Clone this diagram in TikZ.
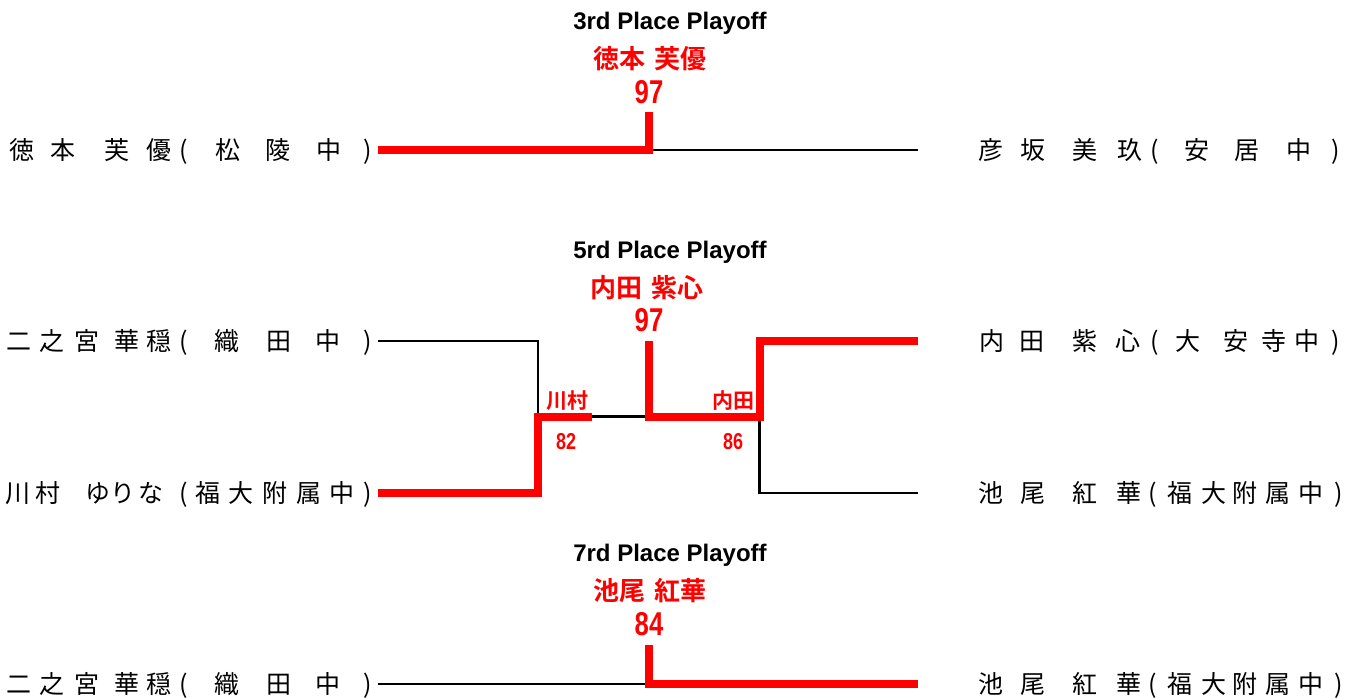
\documentclass[tikz,border=0pt]{standalone}
\usepackage{fontspec}
\newfontfamily\jpfont{Noto Sans CJK JP}[BoldFont={Noto Sans CJK JP Bold}]
\newfontfamily\latinfont{Liberation Sans}
\newfontfamily\numfont{Liberation Sans}[FakeStretch=0.78]
\definecolor{winred}{RGB}{255,0,0}

\tikzset{
  player/.style={font=\jpfont\fontsize{25}{25}\selectfont, inner sep=0pt, text height=21.25pt, text depth=2.25pt},
  playofftitle/.style={font=\latinfont\bfseries\fontsize{24}{24}\selectfont, inner sep=0pt, text height=17.3pt, text depth=0pt},
  winname/.style={font=\jpfont\bfseries\fontsize{26}{26}\selectfont, text=winred, inner sep=0pt, text height=22.1pt, text depth=2.3pt},
  bigscore/.style={font=\numfont\bfseries\fontsize{33}{33}\selectfont, text=winred, inner sep=0pt, text height=23.6pt, text depth=0pt},
  seminame/.style={winname, font=\jpfont\bfseries\fontsize{21}{21}\selectfont, text height=17.85pt, text depth=1.9pt},
  semiscore/.style={bigscore, font=\numfont\bfseries\fontsize{23}{23}\selectfont, text height=16.5pt},
  losepath/.style={line width=2.5pt, black},
  winpath/.style={line width=8pt, winred}
}

\newcommand{\playerrow}[3]{%
  \foreach \cx/\ch [count=\k] in {#3}
    \node[player] (#1-\k) at (\cx,#2) {\ch};}

\begin{document}
\begin{tikzpicture}[x=1pt, y=-1pt]
        \useasboundingbox (0,0) rectangle (1361,697);

        % 3rd place
        \node[playofftitle] (t3) at (670,21) {3rd Place Playoff};
        \node[winname] (w3) at (650,59) {徳本\hspace{9pt}芙優};
        \node[bigscore] (s3) at (649,92) {97};

        \playerrow{p3l}{150}{22/徳,63/本,117/芙,159/優,184/(,228/松,278/陵,329/中,368/)}
        \playerrow{p3r}{150}{991/彦,1033/坂,1085/美,1130/玖,1155/(,1197/安,1247/居,1299/中,1336/)}

        \coordinate (m3-l) at (378,150);
        \coordinate (m3-c) at (648.5,150);
        \coordinate (m3-r) at (918,150);
        \coordinate (m3-top) at (648.5,112);

        \draw[losepath] (m3-c) -- (m3-r);
        \draw[winpath] (m3-l) -| (m3-top);

        % 5th place
        \node[playofftitle] (t5) at (670,250) {5rd Place Playoff};
        \node[winname] (w5) at (647,288) {内田\hspace{9pt}紫心};
        \node[bigscore] (s5) at (649,320) {97};

        \playerrow{p5lt}{341}{19/二,52/之,87/宮,127/華,159/穏,184/(,227/織,279/田,328/中,368/)}
        \playerrow{p5rt}{341}{992/内,1032/田,1085/紫,1128/心,1155/(,1188/大,1236/安,1274/寺,1307/中,1336/)}
        \playerrow{p5lb}{493}{18/川,48/村,98/ゆ,123/り,151/な,184/(,208/福,241/大,275/附,309/属,342/中,368/)}
        \playerrow{p5rb}{493}{991/池,1033/尾,1085/紅,1129/華,1153/(,1180/福,1214/大,1245/附,1278/属,1311/中,1339/)}

        \node[seminame] (sn1) at (567,401) {川村};
        \node[semiscore] (ss1) at (566,441) {82};
        \node[seminame] (sn2) at (733,401) {内田};
        \node[semiscore] (ss2) at (733,441) {86};

        \coordinate (m5-lt) at (378,341);
        \coordinate (m5-lb) at (378,493);
        \coordinate (m5-rt) at (918,340.5);
        \coordinate (m5-rb) at (918,493);
        \coordinate (m5-ls) at (538,416.5);
        \coordinate (m5-ltip) at (592,416.5);
        \coordinate (m5-c) at (649,416.5);
        \coordinate (m5-rs) at (759.5,416.5);
        \coordinate (m5-top) at (649,341);

        \draw[losepath] (m5-lt) -| (m5-ls);
        \draw[losepath] (m5-ltip) -- (m5-c);
        \draw[losepath] (m5-rs) |- (m5-rb);
        \draw[winpath] (m5-lb) -| (m5-ls) -- (m5-ltip);
        \draw[winpath] (m5-top) |- (m5-rs) |- (m5-rt);

        % 7th place
        \node[playofftitle] (t7) at (670,553) {7rd Place Playoff};
        \node[winname] (w7) at (650,591) {池尾\hspace{9pt}紅華};
        \node[bigscore] (s7) at (649,624) {84};

        \playerrow{p7l}{684}{19/二,52/之,87/宮,127/華,159/穏,184/(,227/織,279/田,328/中,368/)}
        \playerrow{p7r}{684}{991/池,1033/尾,1085/紅,1129/華,1153/(,1180/福,1214/大,1245/附,1278/属,1311/中,1339/)}

        \coordinate (m7-l) at (378,684);
        \coordinate (m7-c) at (648.5,684);
        \coordinate (m7-r) at (918,684);
        \coordinate (m7-top) at (648.5,645);

        \draw[losepath] (m7-l) -- (m7-c);
        \draw[winpath] (m7-top) |- (m7-r);
\end{tikzpicture}
\end{document}
